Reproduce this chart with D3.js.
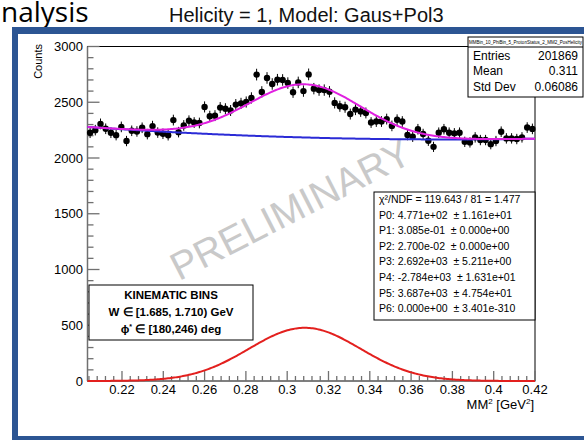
<!DOCTYPE html>
<html><head><meta charset="utf-8">
<script src="https://cdn.jsdelivr.net/npm/d3@7/dist/d3.min.js"></script>
<style>body{margin:0;background:#fff}svg{display:block}</style>
</head><body>
<script>
// ---------- data ----------
const counts = [
 2226,2250,2306,2262,2226,2205,2279,2152,2244,2238,
 2271,2214,2286,2228,2217,2204,2340,2232,2292,2334,
 2318,2314,2458,2375,2380,2452,2442,2426,2479,2490,
 2502,2539,2748,2593,2718,2664,2702,2700,2672,2590,
 2678,2600,2750,2622,2609,2609,2594,2494,2464,2455,
 2394,2434,2418,2404,2318,2327,2327,2349,2288,2343,
 2327,2206,2191,2258,2215,2155,2100,2227,2258,2227,
 2221,2227,2145,2140,2185,2161,2161,2124,2152,2236,
 2176,2176,2170,2185,2273,2261
];
const xRange = [0.2033, 0.42];
const yRange = [0, 3000];
const xTicks = [0.22,0.24,0.26,0.28,0.30,0.32,0.34,0.36,0.38,0.40,0.42];
const xTickLabels = ["0.22","0.24","0.26","0.28","0.3","0.32","0.34","0.36","0.38","0.4","0.42"];
const yTicks = [0,500,1000,1500,2000,2500,3000];
const yTickLabels = ["0","500","1000","1500","2000","2500","3000"];
// fit parameters: P0 amp, P1 mean, P2 sigma, P3..P6 pol3 coefficients
const fitParams = [477.1, 0.3085, 0.0270, 2692, -2784, 3687, 0.0];
const fitLines = [
 "χ²/NDF = 119.643 / 81 = 1.477",
 "P0: 4.771e+02  ± 1.161e+01",
 "P1: 3.085e-01  ± 0.000e+00",
 "P2: 2.700e-02  ± 0.000e+00",
 "P3: 2.692e+03  ± 5.211e+00",
 "P4: -2.784e+03  ± 1.631e+01",
 "P5: 3.687e+03  ± 4.754e+01",
 "P6: 0.000e+00  ± 3.401e-310"
];
const statsTitle = "MMBin_10_PhiBin_5_ProtonStatus_2_MM2_PosHelicity";
const statsLabels = ["Entries","Mean","Std Dev"];
const statsValues = ["201869","0.311","0.06086"];

// ---------- drawing ----------
(function () {
const W = 584, H = 440;
const svg = d3.select("body").append("svg").attr("width", W).attr("height", H)
  .style("font-family", "'Liberation Sans', Arial, sans-serif");

const pL = 87.5, pR = 535, pT = 46.5, pB = 381;
const x = d3.scaleLinear().domain(xRange).range([pL, pR]);
const y = d3.scaleLinear().domain(yRange).range([pB, pT]);

// slide decoration
svg.append("text").attr("x", 1).attr("y", 22)
  .style("font-family", "'Open Sans', sans-serif").style("font-size", "28px")
  .text("nalysis");
svg.append("text").attr("x", 169).attr("y", 22)
  .style("font-size", "20px").attr("fill", "#111")
  .text("Helicity = 1, Model: Gaus+Pol3");

const frameBlue = "#2c5593";
svg.append("rect").attr("x", 12).attr("y", 27).attr("width", 580).attr("height", 7).attr("fill", frameBlue);
svg.append("rect").attr("x", 12).attr("y", 27).attr("width", 6).attr("height", 420).attr("fill", frameBlue);
svg.append("rect").attr("x", 12).attr("y", 436).attr("width", 580).attr("height", 6).attr("fill", frameBlue);

// watermark
svg.append("text")
  .attr("transform", "translate(290,209) rotate(-27)")
  .attr("text-anchor", "middle").attr("dy", "0.36em")
  .style("font-size", "39px").attr("fill", "#c9c9c9")
  .text("PRELIMINARY");

// frame
svg.append("rect").attr("x", pL).attr("y", pT).attr("width", pR - pL).attr("height", pB - pT)
  .attr("fill", "none").attr("stroke", "#000").attr("stroke-width", 1);
const axCol = "#707070";
svg.append("line").attr("x1", pL).attr("x2", pL).attr("y1", pT).attr("y2", pB)
  .attr("stroke", axCol).attr("stroke-width", 1.5);

// y ticks
const yMinor = d3.range(yRange[0], yRange[1] + 1, 100);
svg.append("g").selectAll("line").data(yMinor).join("line")
  .attr("x1", pL).attr("x2", d => pL + (d % 500 === 0 ? 12 : 6))
  .attr("y1", d => y(d)).attr("y2", d => y(d))
  .attr("stroke", axCol).attr("stroke-width", 1.3);
svg.append("g").selectAll("text").data(yTicks).join("text")
  .attr("x", 83).attr("y", d => y(d)).attr("dy", "0.36em")
  .attr("text-anchor", "end").style("font-size", "13px")
  .text((d, i) => yTickLabels[i]);

// x ticks
const xMinor = d3.range(0.204, 0.4201, 0.004);
svg.append("g").selectAll("line").data(xMinor).join("line")
  .attr("x1", d => x(d)).attr("x2", d => x(d))
  .attr("y1", pB).attr("y2", d => pB - (Math.abs(Math.round(d / 0.02) * 0.02 - d) < 1e-6 ? 10 : 5))
  .attr("stroke", axCol).attr("stroke-width", 1.3);
svg.append("g").selectAll("text").data(xTicks).join("text")
  .attr("x", d => x(d)).attr("y", 394)
  .attr("text-anchor", "middle").style("font-size", "13px")
  .text((d, i) => xTickLabels[i]);

// axis titles
const xt = svg.append("text").attr("x", 534).attr("y", 409).attr("text-anchor", "end").style("font-size", "13px");
xt.append("tspan").text("MM");
xt.append("tspan").attr("dy", -5).style("font-size", "8px").text("2");
xt.append("tspan").attr("dy", 5).text(" [GeV");
xt.append("tspan").attr("dy", -5).style("font-size", "8px").text("2");
xt.append("tspan").attr("dy", 5).text("]");
svg.append("text").attr("transform", "translate(42,44) rotate(-90)")
  .attr("text-anchor", "end").style("font-size", "11px").text("Counts");

// data points
const binW = (xRange[1] - xRange[0]) / counts.length;
const pts = counts.map((c, i) => ({ lo: xRange[0] + i * binW, hi: xRange[0] + (i + 1) * binW, c }));
const gp = svg.append("g");
gp.selectAll("line.v").data(pts).join("line").attr("class", "v")
  .attr("x1", d => x((d.lo + d.hi) / 2)).attr("x2", d => x((d.lo + d.hi) / 2))
  .attr("y1", d => y(d.c - Math.sqrt(d.c))).attr("y2", d => y(d.c + Math.sqrt(d.c)))
  .attr("stroke", "#000").attr("stroke-width", 1);
gp.selectAll("line.h").data(pts).join("line").attr("class", "h")
  .attr("x1", d => x(d.lo)).attr("x2", d => x(d.hi))
  .attr("y1", d => y(d.c)).attr("y2", d => y(d.c))
  .attr("stroke", "#000").attr("stroke-width", 1);
gp.selectAll("circle").data(pts).join("circle")
  .attr("cx", d => x((d.lo + d.hi) / 2)).attr("cy", d => y(d.c)).attr("r", 3.2)
  .attr("fill", "#000");

// fit curves from the fit parameters
const [A, mu, sig, p0, p1, p2, p3] = fitParams;
const gaus = v => A * Math.exp(-0.5 * ((v - mu) / sig) ** 2);
const pol = v => p0 + p1 * v + p2 * v * v + p3 * v * v * v;
const xs = d3.range(0, 301).map(i => xRange[0] + (xRange[1] - xRange[0]) * i / 300);
const line = d3.line().x(d => x(d[0])).y(d => y(d[1]));
svg.append("path").datum(xs.map(v => [v, pol(v)])).attr("d", line)
  .attr("fill", "none").attr("stroke", "#2b2bd6").attr("stroke-width", 2);
svg.append("path").datum(xs.map(v => [v, pol(v) + gaus(v)])).attr("d", line)
  .attr("fill", "none").attr("stroke", "#e01fe0").attr("stroke-width", 2);
svg.append("path").datum(xs.map(v => [v, gaus(v)])).attr("d", line)
  .attr("fill", "none").attr("stroke", "#e3201e").attr("stroke-width", 2);

// stats box
svg.append("rect").attr("x", 468).attr("y", 37).attr("width", 115).attr("height", 60)
  .attr("fill", "#fff").attr("stroke", "#000").attr("stroke-width", 1);
svg.append("line").attr("x1", 468).attr("x2", 583).attr("y1", 47).attr("y2", 47).attr("stroke", "#000");
svg.append("text").attr("x", 525.5).attr("y", 44).attr("text-anchor", "middle")
  .style("font-size", "4.5px").text(statsTitle);
statsLabels.forEach((l, i) => {
  svg.append("text").attr("x", 473).attr("y", 60 + i * 15.3).style("font-size", "12px").text(l);
  svg.append("text").attr("x", 578).attr("y", 60 + i * 15.3).attr("text-anchor", "end")
    .style("font-size", "12px").text(statsValues[i]);
});

// fit box
const fbL = 374;
svg.append("rect").attr("x", fbL).attr("y", 192).attr("width", pR - fbL).attr("height", 128)
  .attr("fill", "#fff").attr("stroke", "#000").attr("stroke-width", 1);
svg.append("g").selectAll("text").data(fitLines).join("text")
  .attr("x", fbL + 5).attr("y", (d, i) => 203 + i * 15.6)
  .style("font-size", "10.5px").style("white-space", "pre").attr("xml:space", "preserve")
  .text(d => d);

// kinematic bins box
svg.append("rect").attr("x", 89).attr("y", 285).attr("width", 164).attr("height", 55)
  .attr("fill", "#fff").attr("stroke", "#000").attr("stroke-width", 1);
const kg = svg.append("g").style("font-size", "11.5px").style("font-weight", "bold").attr("text-anchor", "middle")
  .style("white-space", "pre").attr("xml:space", "preserve");
kg.append("text").attr("x", 171).attr("y", 299).text("KINEMATIC BINS");
kg.append("text").attr("x", 171).attr("y", 316).text("W  ∈ [1.685, 1.710) GeV");
const phi = kg.append("text").attr("x", 171).attr("y", 333);
phi.append("tspan").text("ϕ");
phi.append("tspan").attr("dy", -4).style("font-size", "7px").text("*");
phi.append("tspan").attr("dy", 4).text(" ∈ [180,246) deg");
})();
</script>
</body></html>
